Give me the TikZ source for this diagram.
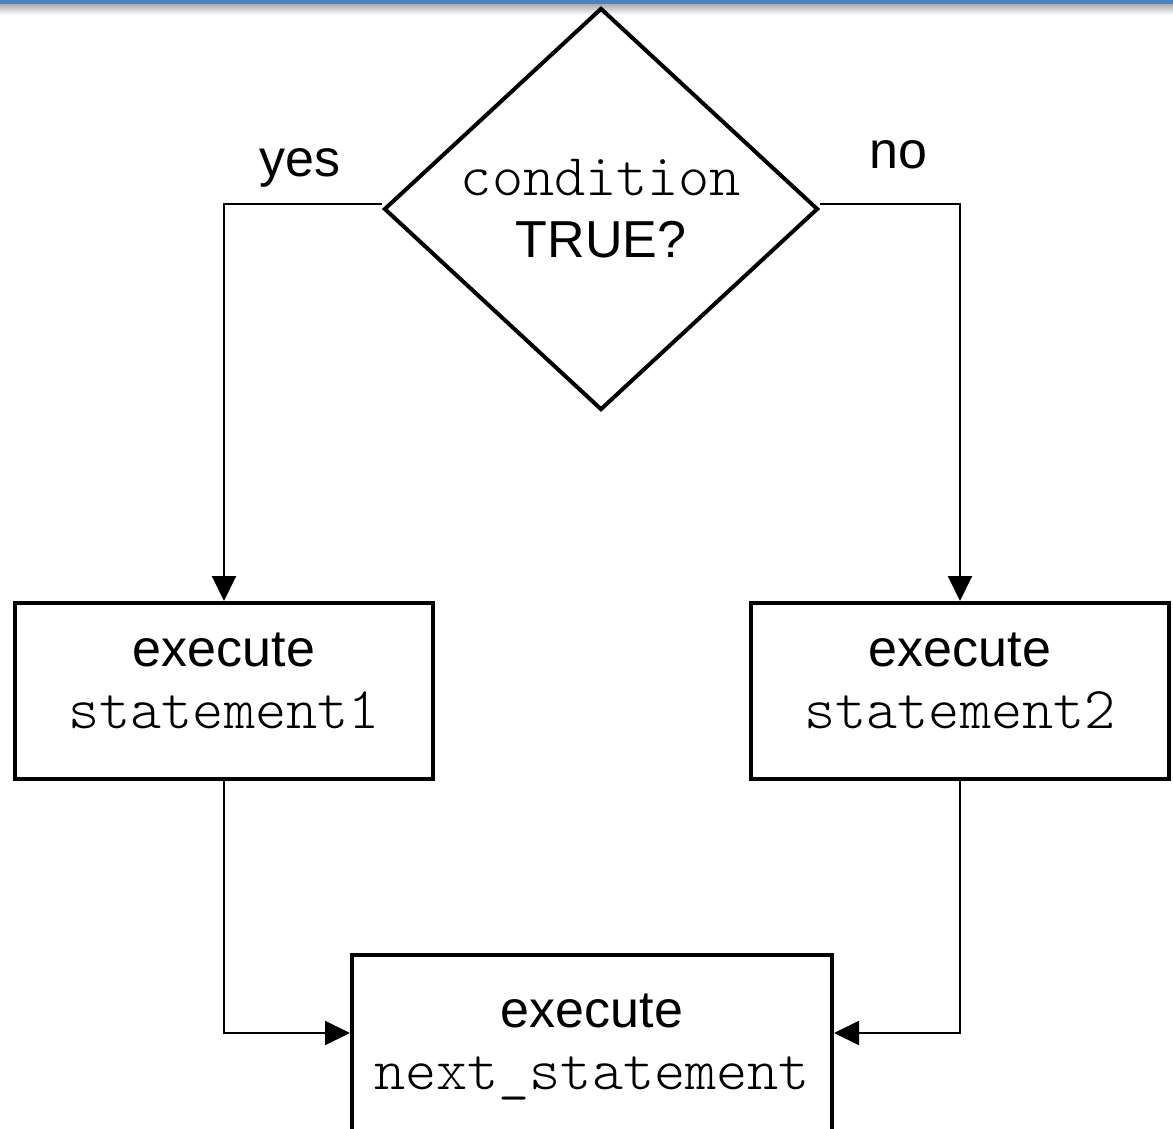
\documentclass[tikz,border=0pt]{standalone}
\usepackage{fontspec}
\setmainfont{Liberation Sans}
\setmonofont[Scale=1.14]{Latin Modern Mono Light}
\usepackage{xcolor}
\usepackage{tikz}
\usetikzlibrary{positioning}
\usetikzlibrary{arrows.meta, shapes.geometric, calc}

\definecolor{slideblue}{RGB}{79,129,189}
\newcommand{\flowfont}{\fontsize{26pt}{31pt}\selectfont}

\tikzset{
    stmtbox/.style={draw, rectangle, line width=2pt, inner sep=0pt,
        minimum width=209pt, minimum height=88pt, align=center, font=\flowfont},
    decision/.style={draw, diamond, line width=2pt, inner sep=0pt, aspect=1.08,
        minimum width=217pt, minimum height=201pt, align=center, font=\flowfont},
    flow/.style={line width=1pt, -{Triangle[length=12.5pt,width=12pt]}},
    branch/.style={font=\flowfont},
}

\begin{document}
\begin{tikzpicture}[x=0.5pt, y=-0.5pt]
        \clip (0,0) rectangle (1173,1129);
        % slide header bar
        \fill[slideblue] (0,0) rectangle (1173,5);
        \shade[top color=gray!60, bottom color=white] (0,5) rectangle (1173,15);

        \node[decision] (cond) at (601,209) {{\ttfamily condition}\\TRUE?};
        \node[branch] (yes) at (300,168) {yes};
        \node[branch] (no) at (898,155) {no};

        \node[stmtbox, text depth=10pt] (stmtone) at (224,691) {execute\\\ttfamily statement1};
        \node[stmtbox, text depth=10pt] (stmttwo) at (960,691) {execute\\\ttfamily statement2};
        \node[stmtbox, minimum width=240pt, minimum height=92pt] (nextstmt) at (592,1047)
            {execute\\\ttfamily next\_statement};

        \draw[flow] ([yshift=2.5pt]cond.west) -| (stmtone.north);
        \draw[flow] ([yshift=2.5pt]cond.east) -| (stmttwo.north);
        \draw[flow] (stmtone.south) |- ([yshift=7pt]nextstmt.west);
        \draw[flow] (stmttwo.south) |- ([yshift=7pt]nextstmt.east);
\end{tikzpicture}
\end{document}
